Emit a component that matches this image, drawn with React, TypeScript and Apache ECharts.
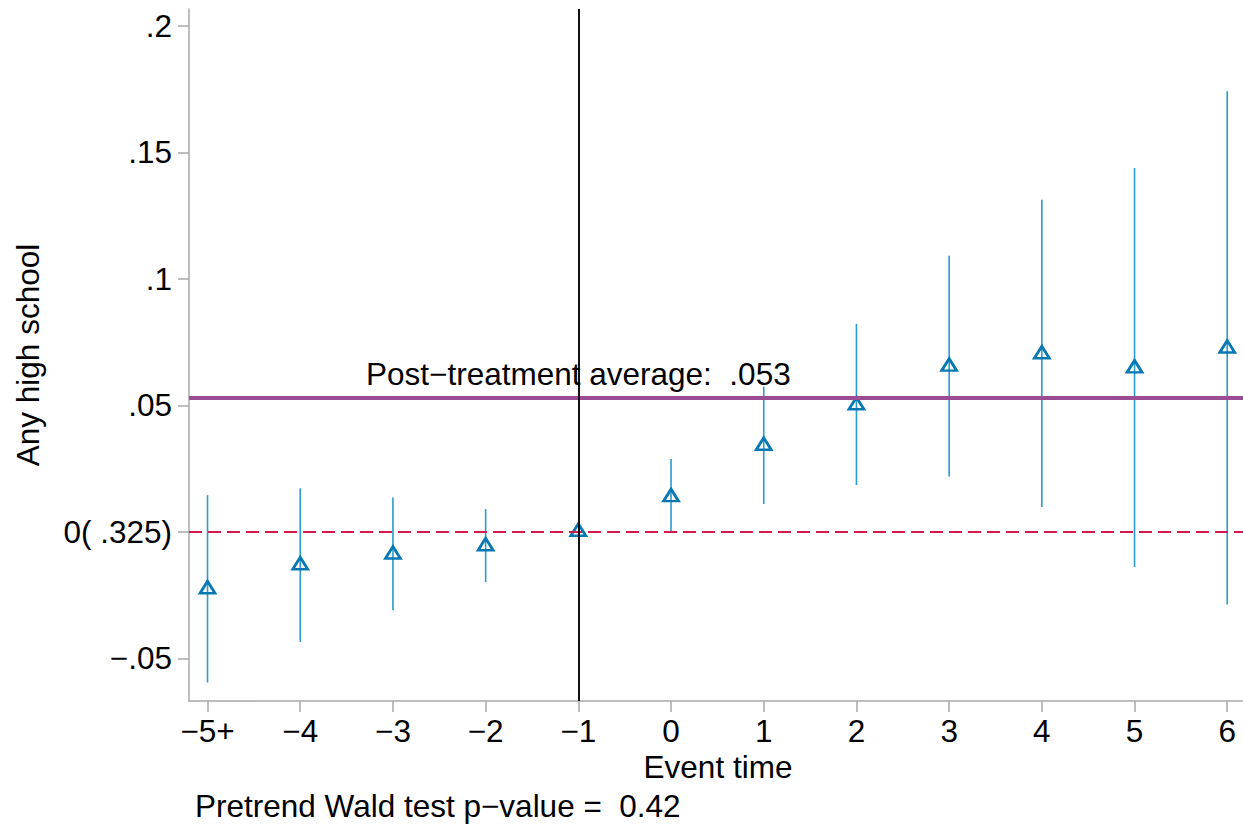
import React, { useEffect, useRef } from "react";
import * as echarts from "echarts";

// Event-study estimates for "Any high school"
const eventTimes = [-5, -4, -3, -2, -1, 0, 1, 2, 3, 4, 5, 6];
const xTickLabels = ["−5+", "−4", "−3", "−2", "−1", "0", "1", "2", "3", "4", "5", "6"];
const coef = [-0.0227, -0.0132, -0.009, -0.0057, 0, 0.0137, 0.034, 0.05, 0.0653, 0.0702, 0.0646, 0.0725];
const ciLow = [-0.0596, -0.0435, -0.031, -0.0199, null, 0.0002, 0.011, 0.0185, 0.0219, 0.0098, -0.0139, -0.0287];
const ciHigh = [0.0145, 0.0172, 0.0136, 0.009, null, 0.0288, 0.0574, 0.0822, 0.1091, 0.1313, 0.1438, 0.1742];
const postAverage = 0.053;
const referencePeriod = -1;

const yTicks = [-0.05, 0, 0.05, 0.1, 0.15, 0.2];
const yTickLabels = ["−.05", "0( .325)", ".05", ".1", ".15", ".2"];

const FONT = "'Liberation Sans', Arial, Helvetica, sans-serif";
const FONT_SIZE = 31.5;
const LINE_H = 28;
const AXIS_GREY = "#a8a8a8";
const CI_BLUE = "#2a9bd0";
const MARKER_BLUE = "#0878b2";

const fmtShort = (v: number) => String(v).replace(/^0\./, ".").replace(/^-0\./, "−.");

export default function App() {
  const ref = useRef<HTMLDivElement>(null);

  useEffect(() => {
    if (!ref.current) return;
    const chart = echarts.init(ref.current, null, { renderer: "svg" });

    const ciData = eventTimes
      .map((t, i) => [t, ciLow[i], ciHigh[i]])
      .filter((d) => d[1] !== null && d[2] !== null);

    const textStyle = { fontSize: FONT_SIZE, fontFamily: FONT, fill: "#000", lineHeight: LINE_H };

    chart.setOption({
      animation: false,
      backgroundColor: "#ffffff",
      textStyle: { fontFamily: FONT },
      grid: { left: 189, right: 0, top: 9, bottom: 126, containLabel: false, outerBoundsMode: "none" },
      xAxis: {
        type: "value",
        min: -5.2,
        max: 6.17,
        splitLine: { show: false },
        axisLine: { show: true, onZero: false, lineStyle: { color: AXIS_GREY, width: 1.5 } },
        axisTick: { show: true, length: 11, lineStyle: { color: AXIS_GREY, width: 1.5 }, customValues: eventTimes },
        axisLabel: {
          customValues: eventTimes,
          margin: 16,
          fontSize: FONT_SIZE,
          lineHeight: LINE_H,
          color: "#000",
          fontFamily: FONT,
          formatter: (v: number) => {
            const i = eventTimes.indexOf(Math.round(v));
            return i >= 0 ? xTickLabels[i] : "";
          },
        },
      },
      yAxis: {
        type: "value",
        min: -0.0669,
        max: 0.2067,
        splitLine: { show: false },
        axisLine: { show: true, onZero: false, lineStyle: { color: AXIS_GREY, width: 1.5 } },
        axisTick: { show: true, length: 11, lineStyle: { color: AXIS_GREY, width: 1.5 }, customValues: yTicks },
        axisLabel: {
          customValues: yTicks,
          margin: 17,
          fontSize: FONT_SIZE,
          lineHeight: LINE_H,
          color: "#000",
          fontFamily: FONT,
          formatter: (v: number) => {
            const i = yTicks.findIndex((t) => Math.abs(t - v) < 1e-9);
            return i >= 0 ? yTickLabels[i] : "";
          },
        },
      },
      graphic: [
        {
          type: "text",
          x: 28,
          y: 355,
          rotation: Math.PI / 2,
          style: { ...textStyle, text: "Any high school", align: "center", verticalAlign: "middle" },
        },
        {
          type: "text",
          x: 718,
          y: 767,
          style: { ...textStyle, text: "Event time", align: "center", verticalAlign: "middle" },
        },
        {
          type: "text",
          x: 195,
          y: 806,
          style: { ...textStyle, text: "Pretrend Wald test p−value =  0.42", align: "left", verticalAlign: "middle" },
        },
      ],
      series: [
        {
          // reference lines: zero, post-treatment mean, omitted period
          type: "line",
          data: [[referencePeriod, 0]],
          showSymbol: false,
          symbol: "none",
          silent: true,
          z: 1,
          lineStyle: { opacity: 0 },
          markLine: {
            silent: true,
            precision: 6,
            symbol: ["none", "none"],
            label: { show: false },
            animation: false,
            data: [
              { yAxis: 0, lineStyle: { color: "#d41a4a", width: 2, type: [13, 6] } },
              { yAxis: postAverage, lineStyle: { color: "#9a4d95", width: 4, type: "solid" } },
              { xAxis: referencePeriod, lineStyle: { color: "#111111", width: 2, type: "solid" } },
            ],
          },
        },
        {
          // 95% confidence intervals
          type: "custom",
          z: 3,
          silent: true,
          data: ciData,
          encode: { x: 0, y: [1, 2] },
          renderItem: (_params: any, api: any) => {
            const x = api.value(0);
            const p1 = api.coord([x, api.value(1)]);
            const p2 = api.coord([x, api.value(2)]);
            return {
              type: "line",
              shape: { x1: p1[0], y1: p1[1], x2: p2[0], y2: p2[1] },
              style: { stroke: CI_BLUE, lineWidth: 1.6 },
            };
          },
        },
        {
          // point estimates
          type: "scatter",
          z: 4,
          silent: true,
          symbol: "triangle",
          symbolSize: [15, 12],
          symbolOffset: [0, -2],
          data: eventTimes.map((t, i) => [t, coef[i]]),
          itemStyle: { color: "rgba(0,0,0,0)", borderColor: MARKER_BLUE, borderWidth: 2.7, opacity: 1 },
        },
        {
          // label for the post-treatment mean
          type: "scatter",
          z: 5,
          silent: true,
          symbolSize: 0,
          itemStyle: { opacity: 1 },
          data: [[referencePeriod, postAverage]],
          label: {
            show: true,
            position: "top",
            distance: 10,
            fontSize: FONT_SIZE,
            lineHeight: LINE_H,
            fontFamily: FONT,
            color: "#000",
            opacity: 1,
            formatter: () => `Post−treatment average:  ${fmtShort(postAverage)}`,
          },
        },
      ],
    });

    return () => chart.dispose();
  }, []);

  return (
    <div
      ref={ref}
      style={{ position: "fixed", left: 0, top: 0, width: 1243, height: 827, background: "#fff" }}
    />
  );
}
